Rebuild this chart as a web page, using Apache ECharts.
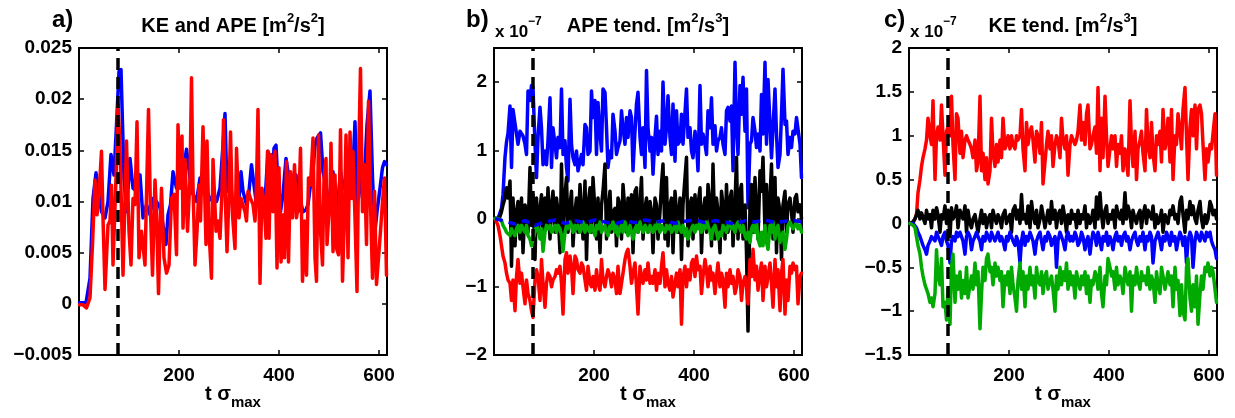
<!DOCTYPE html>
<html>
<head>
<meta charset="utf-8">
<script src="https://cdn.jsdelivr.net/npm/echarts@6/dist/echarts.min.js"></script>
<style>
html, body { margin: 0; padding: 0; background: #fff; }
#chart { width: 1235px; height: 418px; }
</style>
</head>
<body>
<div id="chart"></div>
<script>
// spin-up time marked by the dashed line (t sigma_max)
const spinupT = 78;

// panel a) KE (blue) and APE (red), [time, value]
const totalKE = [[1,0.0001],[14,0.0001],[22,0.0025],[28,0.0103],[34,0.0128],[38,0.0113],[45,0.0090],[52,0.0084],[58,0.0100],[64,0.0146],[70,0.0126],[75,0.0175],[80,0.0227],[84,0.0229],[90,0.0123],[95,0.0090],[102,0.0142],[108,0.0113],[115,0.0110],[122,0.0126],[128,0.0084],[135,0.0097],[142,0.0087],[148,0.0103],[155,0.0100],[162,0.0094],[168,0.0077],[174,0.0058],[178,0.0087],[183,0.0097],[188,0.0129],[195,0.0113],[202,0.0136],[208,0.0129],[215,0.0151],[222,0.0123],[228,0.0107],[235,0.0100],[242,0.0123],[248,0.0113],[255,0.0110],[262,0.0103],[268,0.0100],[275,0.0100],[282,0.0113],[288,0.0155],[292,0.0186],[296,0.0110],[302,0.0126],[307,0.0097],[314,0.0097],[320,0.0103],[324,0.0129],[328,0.0110],[335,0.0097],[340,0.0110],[345,0.0136],[350,0.0116],[355,0.0097],[360,0.0107],[366,0.0103],[372,0.0100],[378,0.0149],[385,0.0107],[390,0.0152],[394,0.0155],[398,0.0116],[403,0.0090],[408,0.0107],[414,0.0142],[418,0.0129],[423,0.0103],[428,0.0100],[434,0.0126],[438,0.0090],[443,0.0100],[448,0.0090],[454,0.0092],[458,0.0097],[463,0.0116],[467,0.0123],[472,0.0155],[476,0.0162],[483,0.0167],[488,0.0129],[494,0.0116],[498,0.0103],[503,0.0103],[508,0.0129],[514,0.0087],[518,0.0100],[523,0.0129],[528,0.0116],[534,0.0110],[538,0.0136],[543,0.0129],[548,0.0133],[552,0.0178],[556,0.0097],[562,0.0123],[567,0.0103],[572,0.0136],[576,0.0175],[582,0.0208],[587,0.0123],[592,0.0071],[596,0.0090],[602,0.0113],[607,0.0133],[611,0.0139],[615,0.0136]];

const totalAPE = [[1,-0.0001],[8,-0.0001],[15,-0.0004],[22,0.0006],[27,0.0058],[32,0.0121],[36,0.0087],[40,0.0107],[45,0.0149],[48,0.0084],[52,0.0014],[55,0.0014],[58,0.0077],[62,0.0081],[65,0.0116],[68,0.0038],[74,0.0123],[78,0.0195],[82,0.0155],[88,0.0028],[95,0.0159],[100,0.0071],[104,0.0038],[108,0.0103],[112,0.0097],[116,0.0178],[120,0.0045],[125,0.0071],[132,0.0038],[135,0.0107],[139,0.0190],[143,0.0090],[147,0.0028],[152,0.0121],[155,0.0090],[159,0.0010],[162,0.0071],[165,0.0113],[170,0.0045],[175,0.0030],[180,0.0038],[185,0.0103],[190,0.0107],[195,0.0048],[198,0.0175],[202,0.0113],[206,0.0164],[208,0.0074],[212,0.0141],[217,0.0071],[222,0.0123],[225,0.0221],[228,0.0116],[232,0.0038],[236,0.0071],[240,0.0116],[243,0.0081],[248,0.0173],[254,0.0058],[256,0.0159],[260,0.0071],[265,0.0025],[268,0.0141],[274,0.0071],[278,0.0081],[282,0.0064],[286,0.0110],[289,0.0180],[293,0.0097],[296,0.0051],[300,0.0107],[303,0.0168],[307,0.0087],[312,0.0054],[315,0.0152],[320,0.0084],[324,0.0103],[328,0.0103],[332,0.0090],[335,0.0081],[338,0.0110],[343,0.0103],[348,0.0097],[352,0.0081],[355,0.0116],[358,0.0190],[362,0.0020],[366,0.0113],[370,0.0100],[374,0.0064],[377,0.0149],[380,0.0064],[384,0.0146],[388,0.0090],[392,0.0149],[396,0.0035],[400,0.0133],[404,0.0041],[408,0.0087],[411,0.0045],[415,0.0139],[419,0.0041],[423,0.0129],[427,0.0084],[431,0.0136],[435,0.0084],[440,0.0103],[443,0.0152],[447,0.0022],[451,0.0081],[455,0.0028],[459,0.0123],[463,0.0116],[468,0.0162],[472,0.0045],[475,0.0022],[479,0.0165],[483,0.0071],[487,0.0038],[490,0.0123],[494,0.0142],[496,0.0058],[502,0.0107],[504,0.0157],[508,0.0051],[512,0.0126],[515,0.0054],[519,0.0048],[523,0.0170],[527,0.0022],[531,0.0090],[534,0.0165],[538,0.0045],[542,0.0168],[546,0.0103],[548,0.0149],[552,0.0084],[556,0.0012],[560,0.0162],[563,0.0230],[567,0.0090],[571,0.0136],[575,0.0058],[579,0.0198],[583,0.0097],[587,0.0025],[591,0.0110],[595,0.0019],[599,0.0045],[603,0.0071],[607,0.0100],[611,0.0123],[615,0.0028]];

// sample times shared by panels b) and c)
const tGrid = [
  2,5,8,12,15,18,22,25,28,32,
  35,38,42,45,48,52,55,58,62,65,
  68,72,75,78,82,85,88,92,95,98,
  102,105,108,112,115,118,122,125,128,132,
  135,138,142,145,148,152,155,158,162,165,
  168,172,175,178,182,185,188,192,195,198,
  202,205,208,212,215,218,222,225,228,232,
  235,238,242,245,248,252,255,258,262,265,
  268,272,275,278,282,285,288,292,295,298,
  302,305,308,312,315,318,322,325,328,332,
  335,338,342,345,348,352,355,358,362,365,
  368,372,375,378,382,385,388,392,395,398,
  402,405,408,412,415,418,422,425,428,432,
  435,438,442,445,448,452,455,458,462,465,
  468,472,475,478,482,485,488,492,495,498,
  502,505,508,512,515,518,522,525,528,532,
  535,538,542,545,548,552,555,558,562,565,
  568,572,575,578,582,585,588,592,595,598,
  602,605,608,612,615
];

// panel b) APE tendency terms, units of 1e-7 m2/s3
const apeTendBlue = [
  0,0,0,0.02,0.15,0.35,0.9,1.12,1.25,1.65,
  0.75,1.60,1.58,1.24,1.09,1.28,1.28,1.21,1.09,0.94,
  1.87,1.73,1.95,1.92,1.09,0.60,1.19,1.63,1.33,0.79,
  0.99,0.79,1.14,1.77,0.75,1.33,1.09,0.89,1.19,1.04,
  1.90,0.94,1.14,0.75,0.55,1.75,1.09,0.89,0.79,0.99,
  0.70,0.84,0.94,0.79,1.38,1.33,0.94,0.99,1.87,1.48,
  1.73,0.94,1.70,1.24,0.99,1.90,1.85,1.33,0.75,0.99,
  0.89,1.53,1.28,0.94,1.04,1.14,1.58,1.33,1.09,1.48,
  1.19,1.58,1.48,0.70,1.28,1.68,1.85,1.19,0.94,1.33,
  0.75,2.17,1.33,0.99,1.19,0.65,1.19,1.50,0.94,1.28,
  0.99,2.00,1.09,1.33,1.80,1.19,0.94,1.68,0.84,1.58,
  1.09,1.14,1.53,1.09,1.09,1.90,1.19,1.33,0.99,0.89,
  1.28,1.09,0.70,1.95,1.09,1.24,1.09,0.94,1.58,1.33,
  1.77,1.09,1.36,0.99,1.14,1.19,1.33,1.09,0.94,1.58,
  1.63,1.43,1.65,0.70,2.29,1.38,0.94,1.95,1.53,2.07,
  1.28,1.90,0.16,1.09,1.14,1.48,1.28,1.04,1.24,0.99,
  1.82,1.24,2.29,1.09,2.04,1.38,0.89,1.33,1.90,1.24,
  0.75,0.94,1.53,2.19,1.38,1.43,0.94,1.19,1.04,1.28,
  1.24,1.48,1.50,1.09,0.60
];
const apeTendBlack = [
  0,0,0,0.03,0.1,0.2,0.3,0.45,0.3,0.55,
  -0.7,0.3,-0.4,0.1,0.25,-0.3,0.3,-0.5,0.2,0.1,
  -0.2,0.75,-0.1,0.35,-0.6,0.3,-0.2,0.15,0.35,-0.4,
  0.3,-0.1,0.45,-0.3,0.2,0.4,-0.2,0.3,0.1,-0.5,
  0.8,-0.3,0.35,0.6,-0.2,0.2,0.4,-0.4,0.1,0.3,
  -0.2,0.5,0.1,-0.3,0.55,-0.6,0.2,0.45,-0.2,0.6,
  0.1,-0.3,0.3,-0.5,0.2,0.4,0.8,-0.3,0.1,0.4,
  -0.2,0.1,0.15,-0.4,0.3,0.2,-0.3,0.5,0.1,-0.2,
  0.3,-0.1,0.35,-0.5,0.4,0.45,-0.2,0.2,0.6,-0.3,
  0.15,0.3,-0.2,0.25,0.1,-0.5,0.3,0.2,-0.3,0.1,
  0.5,0.8,-0.3,0.6,-0.4,0.2,0.3,-0.5,0.4,0.1,
  -0.2,0.3,-0.6,0.2,0.6,0.9,-0.4,0.2,0.3,-0.3,
  0.35,-0.1,0.2,0.45,-0.5,0.1,0.3,-0.2,0.5,0.2,
  -0.4,0.8,-0.3,0.3,0.1,-0.5,0.4,0.2,-0.3,0.5,
  -0.2,0.3,0.4,-0.4,0.2,0.9,-0.3,0.4,0.5,-0.3,
  0.2,-0.5,-1.65,0.2,0.5,-0.2,0.6,0.1,-0.3,0.7,
  0.4,0.9,-0.2,0.5,-0.4,0.3,0.8,-0.3,0.6,-0.5,
  0.3,0.1,-0.6,0.2,0.4,-0.2,0.2,0.3,0.1,-0.2,
  0.3,0.35,0.1,0.2,0.0
];
const apeTendGreen = [
  0,0,0,0,-0.03,-0.1,-0.15,-0.2,-0.2,-0.25,
  -0.15,-0.2,-0.25,-0.15,-0.1,-0.2,-0.1,-0.15,-0.2,-0.1,
  -0.25,-0.3,-0.4,-0.3,-0.2,-0.1,-0.15,-0.3,-0.15,-0.48,
  -0.2,-0.1,-0.15,-0.1,-0.2,-0.15,-0.1,-0.2,-0.1,-0.15,
  -0.25,-0.48,-0.2,-0.1,-0.15,-0.05,-0.1,-0.2,-0.1,-0.15,
  -0.1,-0.2,-0.15,-0.05,-0.2,-0.1,-0.15,-0.2,-0.1,-0.15,
  -0.25,-0.1,-0.15,-0.05,-0.2,-0.15,-0.1,-0.2,-0.25,-0.1,
  -0.15,-0.05,-0.2,-0.1,-0.25,-0.15,-0.1,-0.2,-0.05,-0.15,
  -0.25,-0.1,-0.2,-0.3,-0.15,-0.1,-0.2,-0.05,-0.15,-0.2,
  -0.1,-0.15,-0.2,-0.1,-0.15,-0.2,-0.1,-0.15,-0.05,-0.2,
  -0.1,-0.15,-0.2,-0.1,-0.15,-0.1,-0.2,-0.15,-0.1,-0.2,
  -0.05,-0.15,-0.2,-0.1,-0.25,-0.15,-0.3,-0.2,-0.15,-0.1,
  -0.2,-0.1,-0.15,-0.05,-0.2,-0.1,-0.15,-0.05,-0.1,-0.2,
  -0.3,-0.15,-0.1,-0.2,-0.3,-0.2,-0.25,-0.1,-0.15,-0.2,
  -0.1,-0.05,-0.15,-0.1,-0.2,-0.1,-0.05,-0.15,-0.2,-0.1,
  -0.25,-0.3,-0.2,-0.35,-0.15,-0.1,-0.2,-0.05,-0.3,-0.4,
  -0.2,-0.4,-0.1,-0.35,-0.45,-0.1,-0.2,-0.05,-0.3,-0.15,
  -0.1,-0.35,-0.25,-0.2,-0.45,-0.3,-0.1,-0.05,-0.1,-0.15,
  -0.1,-0.05,-0.15,-0.1,-0.2
];
const apeTendRed = [
  0,-0.02,-0.1,-0.25,-0.4,-0.55,-0.65,-0.8,-0.9,-0.95,
  -1.2,-0.9,-1.35,-0.85,-0.6,-0.95,-0.8,-1.0,-1.25,-0.9,
  -1.1,-1.2,-1.35,-1.45,-0.9,-0.75,-0.85,-1.2,-0.6,-0.95,
  -1.3,-0.95,-0.8,-0.85,-1.0,-0.9,-0.85,-0.75,-0.8,-0.7,
  -0.95,-1.4,-0.6,-0.5,-0.8,-0.55,-0.7,-1.1,-0.55,-0.6,
  -0.75,-0.8,-0.65,-0.7,-0.9,-1.05,-0.7,-0.95,-1.0,-0.85,
  -1.05,-0.75,-0.95,-1.05,-0.6,-0.9,-1.0,-0.85,-0.75,-0.85,
  -1.0,-0.8,-0.9,-1.1,-0.7,-1.1,-0.95,-0.8,-0.6,-0.5,
  -0.45,-0.7,-0.95,-0.8,-0.65,-1.0,-1.4,-0.7,-0.85,-0.95,
  -0.75,-0.9,-0.65,-0.95,-0.85,-0.95,-0.75,-1.05,-0.8,-0.95,
  -0.7,-0.5,-1.0,-0.75,-0.95,-1.05,-0.85,-1.15,-0.95,-0.8,
  -1.0,-0.75,-1.55,-0.85,-0.7,-1.0,-0.75,-0.9,-0.65,-0.6,
  -0.85,-0.55,-0.75,-0.7,-1.1,-0.85,-0.6,-0.75,-1.0,-0.7,
  -0.9,-0.8,-1.1,-0.85,-0.65,-1.0,-0.8,-0.9,-1.3,-0.8,
  -1.0,-0.75,-0.95,-0.85,-1.1,-1.0,-0.75,-0.85,-1.2,-0.95,
  -0.85,-1.0,-1.25,-0.6,-0.85,-0.45,-0.9,-0.7,-1.05,-0.8,
  -0.65,-1.2,-0.7,-1.0,-0.85,-0.65,-0.95,-1.3,-0.6,-1.0,
  -0.75,-1.35,-0.8,-0.6,-1.4,-0.9,-1.2,-0.7,-0.8,-0.65,
  -0.75,-0.7,-1.25,-0.85,-0.8
];
// dashed blue term near zero in panel b)
const apeDashT = [2,22,42,62,82,102,122,142,162,182,202,222,242,262,282,302,322,342,362,382,402,422,442,462,482,502,522,542,562,582,602,615];
const apeDash = [0,-0.04,-0.08,-0.03,-0.1,-0.05,-0.02,-0.07,-0.03,-0.06,-0.02,-0.05,-0.08,-0.03,-0.06,-0.02,-0.05,-0.03,-0.07,-0.04,-0.02,-0.06,-0.03,-0.05,-0.08,-0.03,-0.05,-0.02,-0.06,-0.04,-0.03,-0.05];

// panel c) KE tendency terms, units of 1e-7 m2/s3
const keTendRed = [
  0,0,0,0.02,0.1,0.35,0.5,0.65,0.75,0.85,
  0.95,1.2,1.0,0.9,1.4,0.5,1.0,1.1,0.95,1.35,
  1.0,0.55,1.05,1.1,1.0,1.45,0.9,0.5,1.25,1.2,
  0.8,1.05,0.75,0.95,1.0,0.95,0.9,0.85,0.75,0.95,
  0.6,0.7,1.45,0.6,0.8,0.5,0.75,0.45,0.6,1.2,
  0.8,0.65,0.9,0.7,0.95,0.75,1.2,0.85,0.9,1.0,
  0.85,1.0,0.9,0.85,1.0,0.95,1.0,1.3,0.85,0.6,
  1.15,0.9,1.05,1.1,0.95,0.7,1.05,1.0,0.8,1.15,
  0.45,0.7,0.9,1.05,0.85,1.0,0.65,0.9,1.0,0.95,
  0.75,1.2,0.95,0.85,1.0,0.55,0.9,1.0,1.0,0.9,
  0.95,1.05,1.35,0.95,1.15,0.9,1.25,1.35,0.85,0.9,
  1.0,1.1,0.8,1.55,0.6,1.2,0.75,1.45,1.0,0.65,
  0.85,1.0,0.85,1.0,0.65,0.9,0.8,1.0,0.6,0.85,
  0.7,0.55,1.4,0.9,0.65,1.05,0.5,0.85,0.95,1.05,
  0.8,0.6,1.3,0.9,0.75,1.15,0.8,0.6,1.0,0.9,
  1.05,0.7,1.3,0.85,0.95,1.2,0.7,1.3,0.5,1.0,
  0.9,1.25,1.05,0.85,1.3,1.55,1.0,0.5,1.1,1.3,
  1.0,1.35,0.85,1.3,1.35,1.25,0.9,0.5,0.85,0.7,
  0.9,0.85,0.85,1.25,0.55
];
const keTendBlack = [
  0,0,0.02,0.05,0.1,0.15,0.05,0.12,0.1,0.0,
  0.15,0.05,0.1,-0.05,0.15,0.05,0.18,0.1,-0.1,0.1,
  0.05,0.2,0.0,0.15,-0.15,0.18,0.05,0.1,0.2,-0.05,
  0.15,0.1,0.05,0.2,-0.1,0.15,0.0,-0.05,0.05,0.1,
  0.0,-0.1,0.05,0.15,0.0,0.1,-0.05,0.05,0.1,-0.05,
  0.15,0.05,0.0,0.1,0.05,-0.05,0.1,0.15,0.0,0.05,
  0.1,-0.1,0.15,0.2,0.05,0.15,0.0,0.33,0.05,0.1,
  0.0,0.2,-0.05,0.25,0.1,0.0,0.15,-0.05,0.05,0.2,
  0.1,-0.05,0.05,0.15,0.0,0.25,0.05,0.15,-0.05,0.1,
  0.15,0.0,0.2,0.05,-0.1,0.1,0.0,0.15,0.05,0.1,
  -0.05,0.15,0.0,0.1,0.05,0.2,-0.05,0.1,0.0,0.05,
  0.15,-0.05,0.3,0.05,0.35,0.1,-0.05,0.15,0.2,0.0,
  0.1,0.05,0.15,-0.05,0.2,0.1,0.05,0.15,0.0,0.35,
  0.05,0.2,0.1,-0.05,0.15,0.05,0.0,0.1,0.15,-0.05,
  0.1,0.2,0.0,0.15,0.1,0.05,0.2,-0.05,0.1,0.0,
  0.05,0.15,-0.1,0.1,0.05,0.0,0.15,0.1,0.2,0.05,
  0.1,0.0,0.25,0.3,0.1,-0.1,0.15,0.05,0.25,0.1,
  0.2,0.05,0.0,0.15,0.25,0.05,-0.05,0.1,0.0,0.05,
  0.25,0.2,0.1,0.15,0.05
];
const keTendBlue = [
  0,0,0,-0.02,-0.05,-0.1,-0.15,-0.2,-0.25,-0.3,
  -0.35,-0.25,-0.2,-0.15,-0.15,-0.2,-0.1,-0.15,-0.2,-0.25,
  -0.15,-0.1,-0.2,-0.25,-0.45,-0.2,-0.15,-0.2,-0.1,-0.15,
  -0.1,-0.15,-0.2,-0.35,-0.15,-0.1,-0.15,-0.3,-0.2,-0.15,
  -0.1,-0.15,-0.2,-0.3,-0.15,-0.2,-0.1,-0.15,-0.2,-0.1,
  -0.15,-0.2,-0.15,-0.1,-0.2,-0.15,-0.2,-0.3,-0.15,-0.2,
  -0.1,-0.15,-0.2,-0.25,-0.15,-0.2,-0.45,-0.2,-0.1,-0.25,
  -0.15,-0.2,-0.1,-0.15,-0.2,-0.35,-0.2,-0.15,-0.1,-0.2,
  -0.3,-0.15,-0.2,-0.1,-0.15,-0.25,-0.2,-0.15,-0.5,-0.2,
  -0.1,-0.15,-0.2,-0.3,-0.15,-0.1,-0.2,-0.15,-0.2,-0.1,
  -0.15,-0.25,-0.2,-0.1,-0.15,-0.3,-0.2,-0.15,-0.35,-0.2,
  -0.1,-0.15,-0.25,-0.1,-0.2,-0.3,-0.15,-0.2,-0.1,-0.25,
  -0.15,-0.2,-0.3,-0.15,-0.1,-0.2,-0.15,-0.25,-0.15,-0.1,
  -0.2,-0.15,-0.3,-0.2,-0.15,-0.1,-0.2,-0.25,-0.15,-0.2,
  -0.1,-0.3,-0.15,-0.2,-0.1,-0.15,-0.45,-0.2,-0.15,-0.1,
  -0.2,-0.3,-0.15,-0.2,-0.1,-0.15,-0.25,-0.1,-0.2,-0.15,
  -0.3,-0.2,-0.1,-0.15,-0.25,-0.15,-0.45,-0.2,-0.1,-0.15,
  -0.5,-0.2,-0.1,-0.15,-0.2,-0.1,-0.15,-0.2,-0.1,-0.15,
  -0.1,-0.2,-0.25,-0.3,-0.4
];
const keTendGreen = [
  0,0,-0.02,-0.05,-0.15,-0.25,-0.35,-0.5,-0.6,-0.7,
  -0.75,-0.8,-0.9,-0.85,-0.95,-0.8,-0.3,-0.6,-0.7,-0.4,
  -0.95,-0.9,-1.1,-0.75,-1.15,-0.5,-0.35,-0.9,-0.6,-0.75,
  -0.55,-0.85,-0.65,-0.8,-0.5,-0.85,-0.7,-0.6,-0.75,-0.45,
  -0.7,-0.55,-1.2,-0.8,-0.5,-0.65,-0.4,-0.35,-0.55,-0.5,
  -0.7,-0.45,-0.6,-0.5,-0.65,-0.55,-0.95,-0.6,-0.7,-0.55,
  -0.8,-0.5,-0.7,-0.85,-1.0,-0.65,-0.45,-0.75,-0.55,-0.95,
  -0.6,-0.75,-0.5,-0.7,-0.6,-0.85,-0.5,-0.65,-0.7,-0.55,
  -0.8,-0.6,-0.55,-0.75,-0.65,-0.6,-0.75,-1.0,-0.6,-0.75,
  -0.5,-0.7,-0.55,-0.65,-0.45,-0.75,-0.55,-0.7,-0.6,-0.85,
  -0.55,-0.65,-0.75,-0.6,-0.7,-0.55,-0.8,-0.6,-0.9,-0.65,
  -0.7,-0.55,-0.6,-0.75,-0.5,-0.8,-0.95,-0.6,-0.7,-0.4,
  -0.5,-0.6,-0.55,-0.75,-0.5,-0.7,-0.6,-0.65,-0.8,-0.5,
  -0.6,-0.7,-0.55,-1.0,-0.6,-0.7,-0.5,-0.65,-0.75,-0.55,
  -0.65,-0.6,-0.7,-0.5,-0.75,-0.6,-0.65,-0.9,-0.55,-0.7,
  -0.8,-0.5,-0.6,-0.75,-0.65,-0.55,-0.7,-0.6,-0.95,-0.5,
  -0.75,-0.65,-1.05,-0.7,-1.0,-1.1,-0.5,-0.4,-0.85,-1.0,
  -0.7,-0.95,-0.6,-1.15,-0.8,-0.6,-0.75,-0.5,-0.55,-0.45,
  -0.6,-0.5,-0.55,-0.75,-0.9
];

const FONT = '"Liberation Sans", Arial, Helvetica, sans-serif';
const BLUE = '#0000ff', RED = '#ff0000', GREEN = '#00aa00', BLACK = '#000000';
const LW = 3.5;

const grids = [
  { left: 79, top: 48, width: 308, height: 307 },
  { left: 494, top: 48, width: 308, height: 307 },
  { left: 909, top: 48, width: 308, height: 307 }
];
const yRanges = [
  { min: -0.005, max: 0.025, interval: 0.005 },
  { min: -2, max: 2.5, interval: 1 },
  { min: -1.5, max: 2, interval: 0.5 }
];

function zip(t, v) {
  return t.map(function (x, i) { return [x, v[i]]; });
}

function fmtY(v) {
  var s = String(+v.toFixed(4));
  return s.replace('-', '\u2212');
}

const xAxes = [], yAxes = [];
grids.forEach(function (g, gi) {
  const common = {
    gridIndex: gi, type: 'value', min: 0, max: 616, interval: 200,
    axisLine: { show: true, onZero: false, lineStyle: { color: '#000', width: 2 } },
    axisTick: { show: true, inside: true, length: 5, lineStyle: { color: '#000', width: 1.5 } },
    splitLine: { show: false }
  };
  xAxes.push(Object.assign({}, common, {
    position: 'bottom',
    axisLabel: {
      color: '#000', fontSize: 19, fontWeight: 'bold', fontFamily: FONT, margin: 11,
      formatter: function (v) { return (v > 0 && v % 200 === 0) ? String(v) : ''; }
    }
  }));
  xAxes.push(Object.assign({}, common, { position: 'top', axisLabel: { show: false } }));

  const yr = yRanges[gi];
  const ycommon = {
    gridIndex: gi, type: 'value', min: yr.min, max: yr.max, interval: yr.interval,
    axisLine: { show: true, onZero: false, lineStyle: { color: '#000', width: 2 } },
    axisTick: { show: true, inside: true, length: 5, lineStyle: { color: '#000', width: 1.5 } },
    splitLine: { show: false }
  };
  yAxes.push(Object.assign({}, ycommon, {
    position: 'left',
    axisLabel: {
      color: '#000', fontSize: 19, fontWeight: 'bold', fontFamily: FONT, margin: 7,
      formatter: function (v) {
        if (gi === 1 && !Number.isInteger(+v.toFixed(4))) return '';
        return fmtY(v);
      }
    }
  }));
  yAxes.push(Object.assign({}, ycommon, { position: 'right', axisLabel: { show: false } }));
});

function line(gi, data, color, extra) {
  return Object.assign({
    type: 'line', xAxisIndex: gi * 2, yAxisIndex: gi * 2, data: data,
    showSymbol: false, symbol: 'none', silent: true, animation: false,
    lineStyle: { color: color, width: LW, join: 'round', cap: 'round' },
    itemStyle: { color: color }
  }, extra || {});
}

const spinupMark = {
  silent: true, symbol: ['none', 'none'], animation: false,
  label: { show: false },
  lineStyle: { color: '#000', width: 3.5, type: [12, 7] },
  data: [{ xAxis: spinupT }]
};

const series = [
  line(0, totalKE, BLUE),
  line(0, totalAPE, RED, { markLine: spinupMark }),

  line(1, zip(tGrid, apeTendBlue), BLUE),
  line(1, zip(tGrid, apeTendBlack), BLACK),
  line(1, zip(tGrid, apeTendRed), RED),
  line(1, zip(tGrid, apeTendGreen), GREEN),
  line(1, zip(apeDashT, apeDash), BLUE, {
    lineStyle: { color: BLUE, width: LW, type: [8, 6] }, markLine: spinupMark
  }),

  line(2, zip(tGrid, keTendRed), RED),
  line(2, zip(tGrid, keTendBlack), BLACK),
  line(2, zip(tGrid, keTendBlue), BLUE),
  line(2, zip(tGrid, keTendGreen), GREEN, { markLine: spinupMark })
];

// text pieces: main text with super/subscripts via rich styles
function tok(size, extra) {
  return Object.assign({ fontSize: size, fontWeight: 'bold', fontFamily: FONT, color: '#000', lineHeight: 20 }, extra || {});
}
const richTitle = { m: tok(20), s: tok(13, { padding: [0, 0, 15, 0] }) };
const richMult = { m: tok(17), s: tok(12, { padding: [0, 0, 20, 0] }) };
const richX = { m: tok(20), s: tok(15, { padding: [17, 0, 0, 0] }) };

function label(text, left, top, align, rich, size) {
  return {
    text: text, left: left, top: top, padding: 0,
    textAlign: align, textVerticalAlign: 'top',
    textStyle: rich ? { rich: rich } : { fontSize: size, fontWeight: 'bold', fontFamily: FONT, color: '#000', lineHeight: size }
  };
}

const centers = grids.map(function (g) { return g.left + g.width / 2; });
const titles = [
  label('a)', 52, 8, 'left', null, 24),
  label('{m|KE and APE [m}{s|2}{m|/s}{s|2}{m|]}', centers[0], 16, 'center', richTitle),
  label('b)', 466, 8, 'left', null, 24),
  label('{m|x 10}{s|\u22127}', 495, 22, 'left', richMult),
  label('{m|APE tend. [m}{s|2}{m|/s}{s|3}{m|]}', centers[1], 16, 'center', richTitle),
  label('c)', 884, 8, 'left', null, 24),
  label('{m|x 10}{s|\u22127}', 910, 22, 'left', richMult),
  label('{m|KE tend. [m}{s|2}{m|/s}{s|3}{m|]}', centers[2], 16, 'center', richTitle)
];
centers.forEach(function (cx) {
  titles.push(label('{m|t \u03c3}{s|max}', cx, 384, 'center', richX));
});

const chart = echarts.init(document.getElementById('chart'), null, { renderer: 'canvas' });
chart.setOption({
  animation: false,
  backgroundColor: '#ffffff',
  title: titles,
  grid: grids,
  xAxis: xAxes,
  yAxis: yAxes,
  series: series
});
</script>
</body>
</html>
